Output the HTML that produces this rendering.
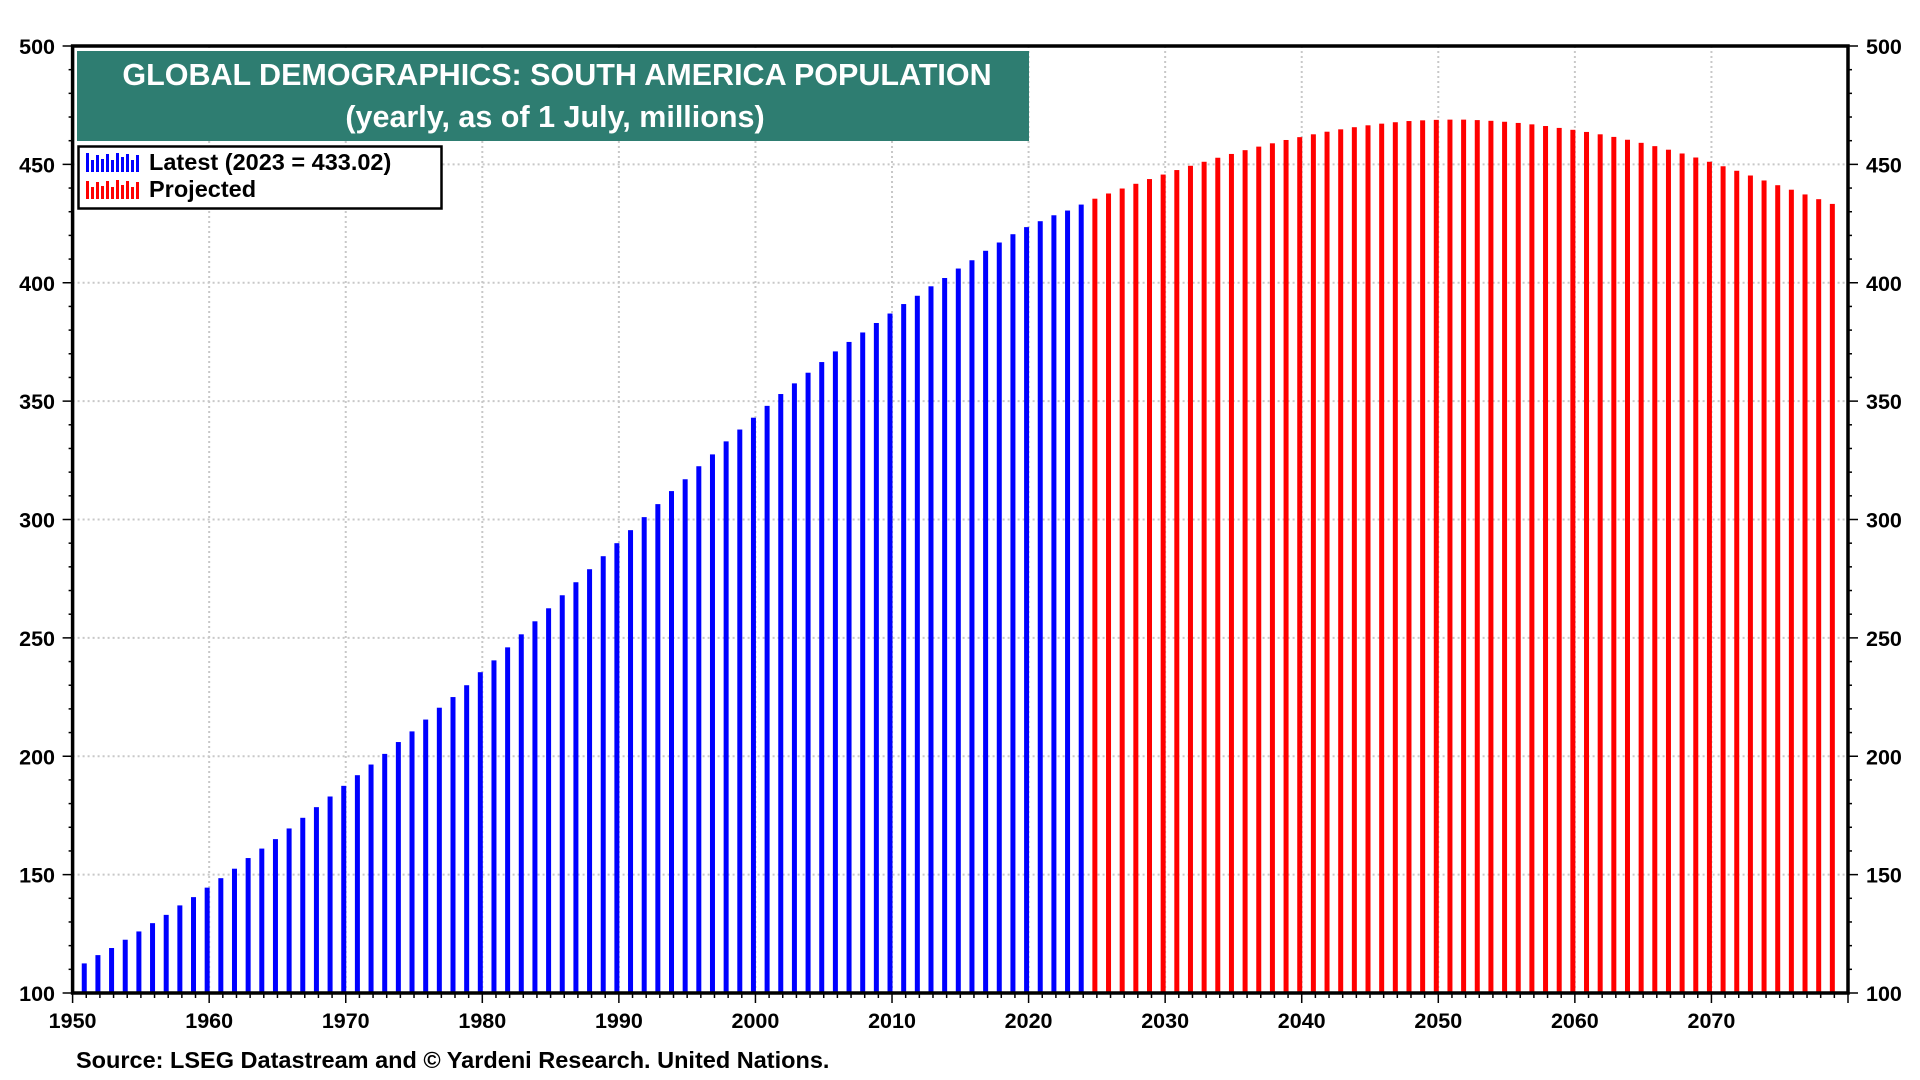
<!DOCTYPE html>
<html><head><meta charset="utf-8"><style>
html,body{margin:0;padding:0;background:#fff;}
svg{display:block;font-family:"Liberation Sans",Arial,sans-serif;}
</style></head><body>
<svg id="chart" width="1920" height="1080" viewBox="0 0 1920 1080" xmlns="http://www.w3.org/2000/svg">
<g id="grid"></g>
<g id="bars"></g>
<g id="axes"></g>
<rect x="77" y="51" width="952" height="90" fill="#2e7d71"/>
<text x="557" y="85" text-anchor="middle" font-size="30.5" font-weight="bold" fill="#fff">GLOBAL DEMOGRAPHICS: SOUTH AMERICA POPULATION</text>
<text x="555" y="127" text-anchor="middle" font-size="30.5" font-weight="bold" fill="#fff">(yearly, as of 1 July, millions)</text>
<g>
<rect x="78.5" y="146.5" width="363" height="62" fill="#fff" stroke="#000" stroke-width="2.5"/>
<g fill="#0000ff">
<rect x="86" y="153" width="3" height="19"/><rect x="91" y="160" width="3" height="12"/><rect x="96" y="155" width="3" height="17"/><rect x="101" y="159" width="3" height="13"/><rect x="106" y="154" width="3" height="18"/><rect x="111" y="160" width="3" height="12"/><rect x="116" y="153" width="3" height="19"/><rect x="121" y="157" width="3" height="15"/><rect x="126" y="154" width="3" height="18"/><rect x="131" y="160" width="3" height="12"/><rect x="136" y="155" width="3" height="17"/></g>
<text x="149" y="170" font-size="23.5" font-weight="bold">Latest (2023 = 433.02)</text>
<g fill="#ff0000">
<rect x="86" y="181" width="3" height="18"/><rect x="91" y="187" width="3" height="12"/><rect x="96" y="182" width="3" height="17"/><rect x="101" y="186" width="3" height="13"/><rect x="106" y="181" width="3" height="18"/><rect x="111" y="187" width="3" height="12"/><rect x="116" y="180" width="3" height="19"/><rect x="121" y="185" width="3" height="14"/><rect x="126" y="181" width="3" height="18"/><rect x="131" y="187" width="3" height="12"/><rect x="136" y="182" width="3" height="17"/></g>
<text x="149" y="197" font-size="23.5" font-weight="bold">Projected</text>
</g>
<text x="76" y="1068" font-size="23.5" font-weight="bold">Source: LSEG Datastream and © Yardeni Research. United Nations.</text>
</svg>
<script>
const latestYears = [1950,1951,1952,1953,1954,1955,1956,1957,1958,1959,1960,1961,1962,1963,1964,1965,1966,1967,1968,1969,1970,1971,1972,1973,1974,1975,1976,1977,1978,1979,1980,1981,1982,1983,1984,1985,1986,1987,1988,1989,1990,1991,1992,1993,1994,1995,1996,1997,1998,1999,2000,2001,2002,2003,2004,2005,2006,2007,2008,2009,2010,2011,2012,2013,2014,2015,2016,2017,2018,2019,2020,2021,2022,2023];
const latestValues = [112.5,116,119,122.5,126,129.5,133,137,140.5,144.5,148.5,152.5,157,161,165,169.5,174,178.5,183,187.5,192,196.5,201,206,210.5,215.5,220.5,225,230,235.5,240.5,246,251.5,257,262.5,268,273.5,279,284.5,290,295.5,301,306.5,312,317,322.5,327.5,333,338,343,348,353,357.5,362,366.5,371,375,379,383,387,391,394.5,398.5,402,406,409.5,413.5,417,420.5,423.5,426,428.5,430.5,433.02];
const projYears = [2024,2025,2026,2027,2028,2029,2030,2031,2032,2033,2034,2035,2036,2037,2038,2039,2040,2041,2042,2043,2044,2045,2046,2047,2048,2049,2050,2051,2052,2053,2054,2055,2056,2057,2058,2059,2060,2061,2062,2063,2064,2065,2066,2067,2068,2069,2070,2071,2072,2073,2074,2075,2076,2077,2078];
const projValues = [435.5,437.7,439.8,441.8,443.8,445.7,447.6,449.4,451.1,452.8,454.4,456,457.5,458.9,460.3,461.5,462.7,463.8,464.8,465.7,466.5,467.2,467.8,468.3,468.6,468.8,468.9,468.9,468.7,468.4,468.0,467.5,466.9,466.2,465.4,464.6,463.7,462.7,461.6,460.4,459.1,457.7,456.2,454.6,452.9,451.1,449.2,447.3,445.3,443.2,441.2,439.3,437.3,435.3,433.3];
const yTicks = [100,150,200,250,300,350,400,450,500];
const xTicks = [1950,1960,1970,1980,1990,2000,2010,2020,2030,2040,2050,2060,2070];

const X0=72.6, X1=1848, Y0=993, Y1=46;
const xMin=1950, xMax=2080, yMin=100, yMax=500;
function xs(v){return X0+(v-xMin)*(X1-X0)/(xMax-xMin);}
function ys(v){return Y0-(v-yMin)*(Y0-Y1)/(yMax-yMin);}
const NS="http://www.w3.org/2000/svg";
function mk(tag,attrs,parent){const e=document.createElementNS(NS,tag);for(const k in attrs)e.setAttribute(k,attrs[k]);parent.appendChild(e);return e;}
const grid=document.getElementById('grid'),bars=document.getElementById('bars'),axes=document.getElementById('axes');

yTicks.forEach(v=>{
  if(v>yMin&&v<yMax){const l=mk('line',{x1:X0,x2:X1,y1:ys(v),y2:ys(v),stroke:'#c8c8c8','stroke-width':2,'stroke-dasharray':'2,3'},grid);
  
  }
});
xTicks.forEach(v=>{
  if(v>xMin){const l=mk('line',{x1:xs(v),x2:xs(v),y1:Y1,y2:Y0,stroke:'#c8c8c8','stroke-width':2,'stroke-dasharray':'2,3'},grid);
  
  }
});

function drawBars(years,vals,color,name){
  years.forEach((yr,i)=>{
    const cx=xs(yr+1)-2, top=ys(vals[i]);
    const r=mk('rect',{x:cx-2.5,y:top,width:5,height:Y0-top,fill:color},bars);
    
    
  });
}
drawBars(latestYears,latestValues,'#0000ff','latest-bar');
drawBars(projYears,projValues,'#ff0000','projected-bar');

const fr=mk('rect',{x:X0,y:Y1,width:X1-X0,height:Y0-Y1,fill:'none',stroke:'#000','stroke-width':3.5},axes);


for(let v=yMin;v<=yMax;v+=10){
  const major=(v%50===0);
  const a=mk('line',{x1:X0-(major?10:4),x2:X0,y1:ys(v),y2:ys(v),stroke:'#000','stroke-width':1.5},axes);
  
  
  const b=mk('line',{x1:X1,x2:X1+(major?10:4),y1:ys(v),y2:ys(v),stroke:'#000','stroke-width':1.5},axes);
  
  
}
for(let v=xMin;v<=xMax;v++){
  const major=(v%10===0);
  const t=mk('line',{x1:xs(v),x2:xs(v),y1:Y0,y2:Y0+(major?10:5),stroke:'#000','stroke-width':1.5},axes);
  
  
}
yTicks.forEach(v=>{
  const a=mk('text',{x:55,y:ys(v)+8,'text-anchor':'end','font-size':21.5,'font-weight':'bold'},axes);
  a.textContent=v;
  
  
  const b=mk('text',{x:1866,y:ys(v)+8,'text-anchor':'start','font-size':21.5,'font-weight':'bold'},axes);
  b.textContent=v;
  
  
});
xTicks.forEach(v=>{
  const t=mk('text',{x:xs(v),y:1028,'text-anchor':'middle','font-size':21.5,'font-weight':'bold'},axes);
  t.textContent=v;
  
  
});
</script>
</body></html>
